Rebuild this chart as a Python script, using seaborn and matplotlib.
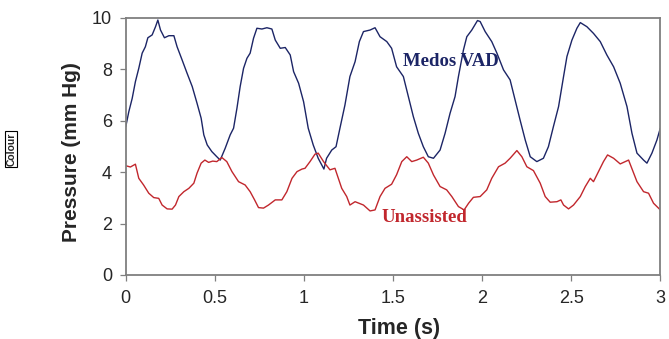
import matplotlib
matplotlib.use("Agg")
import matplotlib.pyplot as plt
import pandas as pd
import seaborn as sns

# values (time in s, pressure in mm Hg)
vad_t = [0.0, 0.017, 0.036, 0.054, 0.073, 0.092, 0.11, 0.124, 0.148, 0.167, 0.18, 0.195,
         0.217, 0.242, 0.27, 0.288, 0.316, 0.344, 0.373, 0.40, 0.423, 0.438, 0.457, 0.483,
         0.511, 0.53, 0.558, 0.586, 0.605, 0.624, 0.642, 0.661, 0.68, 0.698, 0.717, 0.736,
         0.764, 0.792, 0.82, 0.839, 0.867, 0.895, 0.923, 0.942, 0.97, 0.998, 1.024, 1.052,
         1.08, 1.112, 1.127, 1.156, 1.18, 1.202, 1.23, 1.258, 1.287, 1.311, 1.334, 1.371,
         1.399, 1.427, 1.465, 1.492, 1.52, 1.558, 1.586, 1.614, 1.642, 1.67, 1.698, 1.727,
         1.764, 1.792, 1.82, 1.848, 1.867, 1.895, 1.914, 1.942, 1.974, 1.989, 2.017, 2.054,
         2.083, 2.12, 2.157, 2.185, 2.213, 2.242, 2.27, 2.307, 2.344, 2.372, 2.40, 2.429,
         2.457, 2.476, 2.504, 2.532, 2.551, 2.588, 2.625, 2.663, 2.70, 2.738, 2.775, 2.813,
         2.841, 2.869, 2.906, 2.925, 2.953, 2.981, 3.0]
vad_p = [5.77, 6.35, 6.87, 7.52, 8.04, 8.63, 8.88, 9.23, 9.34, 9.66, 9.92, 9.53,
         9.23, 9.31, 9.31, 8.88, 8.37, 7.85, 7.33, 6.68, 6.10, 5.45, 5.06, 4.80,
         4.60, 4.47, 4.93, 5.45, 5.71, 6.49, 7.33, 8.04, 8.43, 8.63, 9.21, 9.60,
         9.57, 9.62, 9.57, 9.14, 8.82, 8.85, 8.56, 7.91, 7.46, 6.74, 5.71, 5.06,
         4.54, 4.12, 4.54, 4.86, 4.99, 5.71, 6.61, 7.72, 8.30, 9.08, 9.47, 9.53,
         9.62, 9.27, 9.08, 8.82, 8.10, 7.72, 6.94, 6.16, 5.51, 4.99, 4.60, 4.54,
         4.86, 5.51, 6.29, 6.94, 7.72, 8.75, 9.27, 9.53, 9.90, 9.86, 9.47, 9.08,
         8.63, 7.98, 7.59, 6.81, 6.03, 5.25, 4.60, 4.41, 4.54, 4.99, 5.77, 6.55,
         7.72, 8.50, 9.14, 9.60, 9.82, 9.66, 9.40, 9.08, 8.56, 8.10, 7.46, 6.55,
         5.51, 4.74, 4.47, 4.35, 4.74, 5.25, 5.71]

una_t = [0.0, 0.026, 0.054, 0.073, 0.10, 0.129, 0.157, 0.185, 0.204, 0.232, 0.26, 0.279,
         0.298, 0.326, 0.354, 0.382, 0.40, 0.423, 0.444, 0.465, 0.488, 0.511, 0.539, 0.567,
         0.596, 0.633, 0.67, 0.698, 0.723, 0.745, 0.773, 0.801, 0.839, 0.876, 0.904, 0.933,
         0.961, 0.989, 1.006, 1.034, 1.062, 1.08, 1.11, 1.146, 1.174, 1.193, 1.212, 1.24,
         1.258, 1.287, 1.334, 1.371, 1.399, 1.427, 1.455, 1.492, 1.52, 1.549, 1.577, 1.605,
         1.633, 1.67, 1.698, 1.727, 1.764, 1.801, 1.83, 1.867, 1.899, 1.924, 1.951, 1.989,
         2.026, 2.054, 2.092, 2.129, 2.157, 2.195, 2.223, 2.251, 2.288, 2.326, 2.354, 2.382,
         2.42, 2.442, 2.457, 2.485, 2.513, 2.551, 2.579, 2.607, 2.625, 2.653, 2.681, 2.704,
         2.738, 2.775, 2.822, 2.869, 2.906, 2.934, 2.962, 3.0]
una_p = [4.25, 4.20, 4.31, 3.76, 3.50, 3.18, 3.01, 2.98, 2.72, 2.57, 2.56, 2.72,
         3.05, 3.24, 3.37, 3.57, 3.96, 4.35, 4.47, 4.38, 4.43, 4.41, 4.57, 4.41,
         4.02, 3.63, 3.50, 3.24, 2.92, 2.62, 2.60, 2.72, 2.92, 2.92, 3.24, 3.76,
         4.02, 4.12, 4.15, 4.41, 4.70, 4.74, 4.41, 4.09, 4.15, 3.76, 3.37, 3.05,
         2.72, 2.85, 2.72, 2.49, 2.53, 3.05, 3.37, 3.53, 3.90, 4.41, 4.60, 4.41,
         4.47, 4.58, 4.35, 3.89, 3.44, 3.31, 3.05, 2.66, 2.53, 2.79, 3.02, 3.05,
         3.31, 3.76, 4.21, 4.35, 4.54, 4.84, 4.60, 4.21, 4.06, 3.57, 3.05, 2.83,
         2.85, 2.92, 2.72, 2.57, 2.72, 3.05, 3.44, 3.76, 3.63, 4.02, 4.41, 4.67,
         4.54, 4.32, 4.47, 3.63, 3.24, 3.18, 2.79, 2.53]

x_ticks = [0, 0.5, 1, 1.5, 2, 2.5, 3]
x_labels = ["0", "0.5", "1", "1.5", "2", "2.5", "3"]
y_ticks = [0, 2, 4, 6, 8, 10]

navy = "#1c2566"
red = "#c1272d"
grey = "#7f7f7f"

df = pd.concat([
    pd.DataFrame({"t": vad_t, "p": vad_p, "series": "Medos VAD"}),
    pd.DataFrame({"t": una_t, "p": una_p, "series": "Unassisted"}),
])

sns.set_style("white")
plt.rcParams["font.family"] = ["Liberation Sans", "DejaVu Sans"]

fig = plt.figure(figsize=(6.69, 3.39), dpi=100)
ax = fig.add_axes([0.188, 0.189, 0.799, 0.758])

sns.lineplot(data=df, x="t", y="p", hue="series", palette={"Medos VAD": navy, "Unassisted": red},
             linewidth=1.0, legend=False, ax=ax, estimator=None, sort=False)

ax.set_xlim(0, 3)
ax.set_ylim(0, 10)
ax.set_xticks(x_ticks)
ax.set_xticklabels(x_labels)
ax.set_yticks(y_ticks)
ax.tick_params(axis="both", which="both", direction="out", length=4, width=0.9,
               color=grey, labelsize=13, bottom=True, left=True)
ax.tick_params(axis="x", pad=7)
ax.tick_params(axis="y", pad=6)
for s in ax.spines.values():
    s.set_color(grey)
    s.set_linewidth(1.3)
    s.set_visible(True)

ax.set_xlabel("Time (s)", fontsize=15.5, fontweight="bold")
ax.set_ylabel("Pressure (mm Hg)", fontsize=15, fontweight="bold")
ax.xaxis.set_label_coords(0.511, -0.167)
ax.yaxis.set_label_coords(-0.084, 0.48)

ax.text(1.556, 8.3, "Medos VAD", color=navy, fontsize=13.5, fontweight="bold",
        family=["Liberation Serif", "DejaVu Serif"], va="center", ha="left")
ax.text(1.438, 2.25, "Unassisted", color=red, fontsize=13.5, fontweight="bold",
        family=["Liberation Serif", "DejaVu Serif"], va="center", ha="left")

fig.text(0.017, 0.56, "Colour", rotation=90, fontsize=7.5, fontweight="bold",
         family=["Liberation Sans Narrow", "Liberation Sans", "DejaVu Sans"],
         va="center", ha="center",
         bbox=dict(boxstyle="square,pad=0.1", fc="white", ec="black", lw=0.8))

fig.savefig("out.png", dpi=100)
plt.close(fig)
